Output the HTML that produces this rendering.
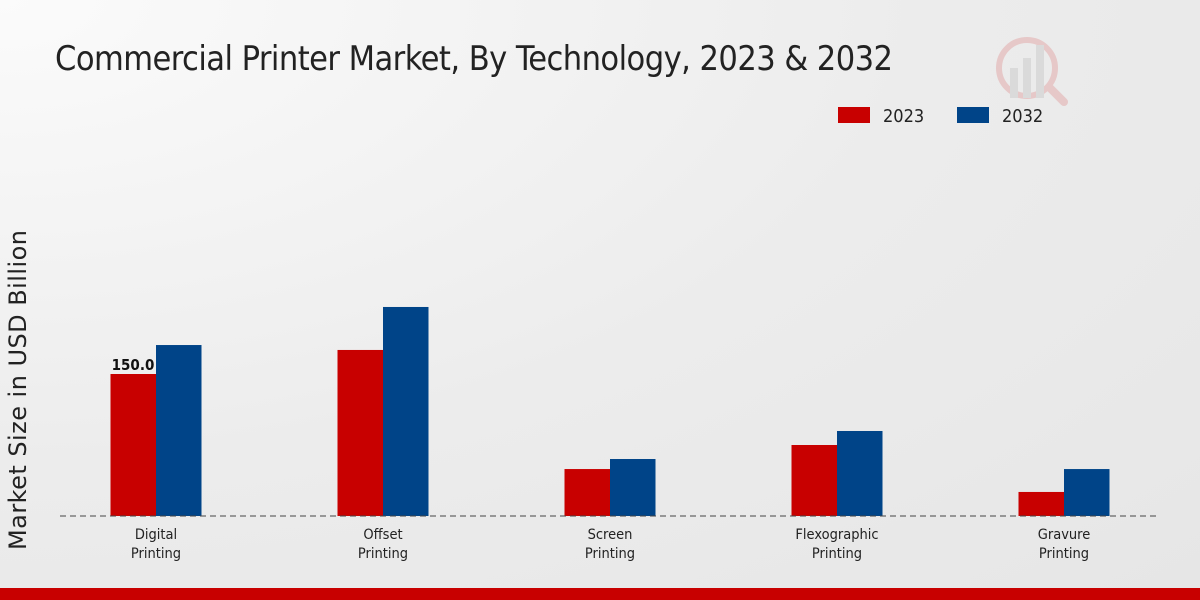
<!DOCTYPE html>
<html><head><meta charset="utf-8"><style>
body{margin:0;width:1200px;height:600px;overflow:hidden;font-family:"DejaVu Sans Condensed","DejaVu Sans","Liberation Sans",sans-serif;}
#bg{position:absolute;left:0;top:0;width:1200px;height:600px;background:radial-gradient(ellipse at 0% 0%,#fbfbfb 0%,#ececec 55%,#e6e6e6 100%);}
</style></head><body>
<div id="bg"></div>
<svg width="1200" height="600" style="position:absolute;left:0;top:0">
<text x="55" y="70" font-size="34" fill="#222" style="font-family:'DejaVu Sans Condensed','Liberation Sans Narrow',sans-serif" textLength="838">Commercial Printer Market, By Technology, 2023 &amp; 2032</text>
<g opacity="0.35">
<circle cx="1027" cy="68" r="28" fill="none" stroke="#d88" stroke-width="6"/>
<rect x="1010" y="68" width="8" height="30" fill="#bbb"/><rect x="1023" y="58" width="8" height="40" fill="#bbb"/><rect x="1036" y="45" width="8" height="53" fill="#bbb"/>
<line x1="1050" y1="88" x2="1064" y2="102" stroke="#d88" stroke-width="8" stroke-linecap="round"/>
</g>
<g>
<rect x="838" y="107" width="32" height="16" fill="#c80000"/>
<text x="883" y="122" font-size="18" fill="#222">2023</text>
<rect x="957" y="107" width="32" height="16" fill="#004488"/>
<text x="1002" y="122" font-size="18" fill="#222">2032</text>
</g>
<text transform="translate(26,390) rotate(-90)" text-anchor="middle" font-size="24" fill="#222" textLength="320" style="font-family:'DejaVu Sans','Liberation Sans',sans-serif">Market Size in USD Billion</text>
<g id="bars"></g>
<line x1="60" y1="516" x2="1160" y2="516" stroke="#444" stroke-width="1" stroke-dasharray="6,4"/>
<g id="labels"></g>
<rect x="0" y="588" width="1200" height="12" fill="#c80000"/>
</svg>
<script>
const categories=[["Digital","Printing"],["Offset","Printing"],["Screen","Printing"],["Flexographic","Printing"],["Gravure","Printing"]];
const values2023=[150.0,175.4,49.6,75.0,25.4];
const values2032=[180.6,220.8,60.2,89.8,49.6];
const valueLabels=["150.0",null,null,null,null];
const NS="http://www.w3.org/2000/svg";
const baseY=516, pxPerUnit=142/150;
const y=v=>baseY-v*pxPerUnit;
const xc=i=>156+i*227;
const bars=document.getElementById('bars'), labels=document.getElementById('labels');
function mk(t,a){const e=document.createElementNS(NS,t);for(const k in a)e.setAttribute(k,a[k]);return e;}
categories.forEach((c,i)=>{
  const r=mk('rect',{x:xc(i)-45.5,y:y(values2023[i]),width:45.5,height:values2023[i]*pxPerUnit,fill:'#c80000'});
  
  
  bars.appendChild(r);
  const b=mk('rect',{x:xc(i),y:y(values2032[i]),width:45.5,height:values2032[i]*pxPerUnit,fill:'#004488'});
  
  
  bars.appendChild(b);
  if(valueLabels[i]){
    const t=mk('text',{x:xc(i)-23,y:y(values2023[i])-4,'text-anchor':'middle','font-size':15,'font-weight':'bold',fill:'#111'});
    t.textContent=valueLabels[i];
    
    
    labels.appendChild(t);
  }
  c.forEach((line,j)=>{
    const t=mk('text',{x:xc(i),y:539+j*19,'text-anchor':'middle','font-size':14.5,fill:'#222'});
    t.textContent=line;
    
    
    labels.appendChild(t);
  });
});
</script>
</body></html>
